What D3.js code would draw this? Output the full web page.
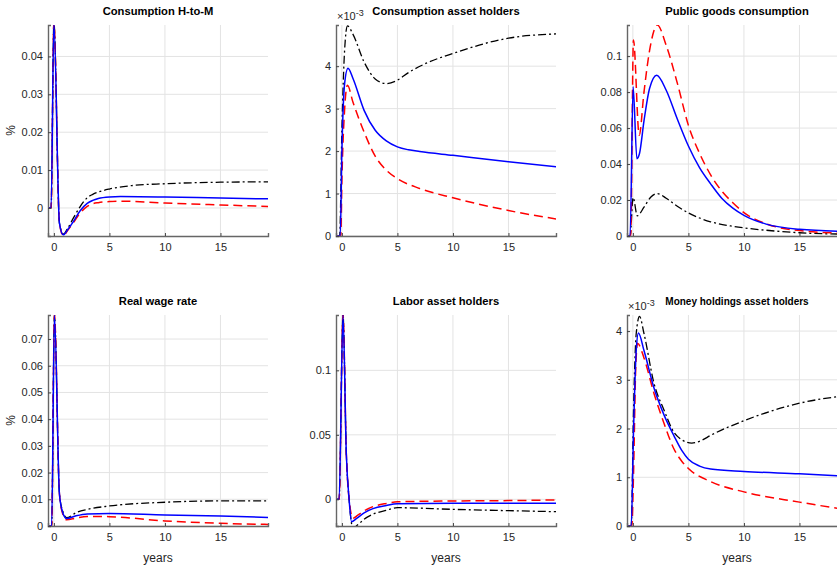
<!DOCTYPE html>
<html>
<head>
<meta charset="utf-8">
<script src="https://cdn.jsdelivr.net/npm/d3@7"></script>
<style>
  body { margin: 0; background: #fff; }
  svg { display: block; font-family: "Liberation Sans", Arial, Helvetica, sans-serif; }
</style>
</head>
<body>
<svg id="fig" width="837" height="571"></svg>
<script>
// time in years ([t, value])
const xTicks = [0, 5, 10, 15];

// Consumption H-to-M (%)
const consHtmBlue = [[-0.53,0],[-0.25,0],[0,0.049],[0.5,-0.004],[0.85,-0.0071],[1.25,-0.0057],[1.75,-0.0036],[2.35,-0.0008],[3,0.0012],[3.5,0.002],[4,0.0025],[5,0.0029],[6,0.003],[10,0.0029],[15,0.0026],[19.3,0.0024]];
const consHtmRed = [[-0.53,0],[-0.25,0],[0,0.049],[0.5,-0.004],[0.85,-0.0073],[1.25,-0.0059],[1.75,-0.0039],[2.35,-0.0014],[3,0.0004],[3.5,0.0011],[4,0.0014],[5,0.0017],[6,0.0018],[10,0.0013],[15,0.0008],[19.3,0.0004]];
const consHtmBlack = [[-0.53,0],[-0.25,0],[0,0.049],[0.5,-0.004],[0.85,-0.0069],[1.25,-0.0053],[1.75,-0.0027],[2.35,0.0003],[3,0.0027],[3.5,0.0036],[4,0.0042],[5,0.005],[7,0.0059],[10,0.0064],[15,0.0068],[19.3,0.0069]];
const consHtmTicks = [0, 0.01, 0.02, 0.03, 0.04];

// Consumption asset holders (x 10^-3)
const consAhBlue = [[-0.53,0],[-0.15,0],[0,2.0],[0.25,3.6],[0.55,3.95],[1,3.71],[2,2.96],[3,2.49],[4,2.24],[5,2.1],[6,2.03],[7,1.99],[10,1.9],[15,1.75],[19.3,1.63]];
const consAhRed = [[-0.53,0],[-0.1,0],[0,1.3],[0.25,3.0],[0.5,3.55],[1,3.15],[2,2.45],[3,1.88],[4,1.55],[5,1.35],[7,1.12],[10,0.9],[15,0.6],[19.3,0.4]];
const consAhBlack = [[-0.53,0],[-0.2,0],[0,2.5],[0.25,4.4],[0.5,4.95],[1,4.75],[2,4.1],[3,3.7],[4,3.59],[5,3.67],[6,3.85],[7.6,4.07],[10,4.3],[15,4.66],[19.3,4.76]];
const consAhTicks = [0, 1, 2, 3, 4];

// Public goods consumption
const pubBlue = [[-0.45,0],[-0.25,0],[0.02,0.083],[0.36,0.043],[0.6,0.046],[1,0.064],[1.5,0.082],[2.15,0.0894],[3,0.081],[4,0.065],[5,0.05],[6,0.038],[7,0.029],[8,0.021],[9,0.0155],[10,0.0115],[12,0.0066],[15,0.0037],[19.3,0.0025]];
const pubRed = [[-0.45,0],[-0.2,0],[0.05,0.109],[0.57,0.056],[1,0.08],[1.5,0.103],[2.2,0.1173],[3,0.106],[4,0.085],[5,0.0615],[6,0.046],[7,0.034],[8,0.025],[9,0.0185],[10,0.013],[12,0.0068],[15,0.003],[19.3,0.0015]];
const pubBlack = [[-0.45,0],[-0.25,0],[0.02,0.0214],[0.4,0.0112],[1,0.016],[1.6,0.0215],[2.2,0.0236],[3,0.021],[4,0.0165],[5,0.0128],[6,0.01],[7,0.0079],[8.8,0.0056],[10,0.0045],[12,0.0032],[15,0.0018],[19.3,0.001]];
const pubTicks = [0, 0.02, 0.04, 0.06, 0.08, 0.1];

// Real wage rate (%)
const wageBlue = [[-0.53,0],[-0.2,0],[0.05,0.079],[0.5,0.012],[0.8,0.005],[1.15,0.0028],[2,0.0038],[3,0.0045],[5,0.0047],[10,0.0041],[15,0.0037],[19.3,0.0032]];
const wageRed = [[-0.53,0],[-0.2,0],[0.05,0.079],[0.5,0.012],[0.8,0.0045],[1.15,0.0023],[2,0.003],[3,0.0036],[5,0.0035],[10,0.0019],[15,0.001],[19.3,0.0006]];
const wageBlack = [[-0.53,0],[-0.2,0],[0.05,0.079],[0.5,0.012],[0.8,0.0055],[1.15,0.0031],[2,0.005],[3,0.0062],[5,0.0075],[10,0.0089],[15,0.0094],[19.3,0.0094]];
const wageTicks = [0, 0.01, 0.02, 0.03, 0.04, 0.05, 0.06, 0.07];

// Labor asset holders
const laborBlue = [[-0.53,0],[-0.25,0],[0.1,0.143],[0.4,0.035],[0.65,0],[0.87,-0.0174],[1.3,-0.015],[2,-0.0105],[2.8,-0.0072],[4,-0.0048],[5,-0.0035],[10,-0.0031],[15,-0.0031],[19.3,-0.0031]];
const laborRed = [[-0.53,0],[-0.25,0],[0.1,0.143],[0.4,0.035],[0.65,0],[1,-0.0147],[1.4,-0.0125],[2,-0.009],[2.8,-0.0057],[4,-0.0032],[5,-0.0019],[10,-0.0013],[15,-0.001],[19.3,-0.0005]];
const laborBlack = [[-0.53,0],[-0.25,0],[0.1,0.143],[0.4,0.035],[0.65,0],[1,-0.0225],[1.4,-0.02],[2,-0.0155],[2.8,-0.0116],[4,-0.0085],[5,-0.0065],[10,-0.0078],[15,-0.0088],[19.3,-0.0096]];
const laborTicks = [0, 0.05, 0.1];

// Money holdings asset holders (x 10^-3)
const moneyBlue = [[-0.45,0],[-0.15,0],[0.06,1.97],[0.3,3.6],[0.5,3.96],[1,3.6],[1.9,2.83],[2.8,2.28],[3.7,1.85],[4.4,1.55],[5,1.37],[6,1.23],[7,1.17],[10,1.12],[15,1.07],[19.3,1.02]];
const moneyRed = [[-0.45,0],[-0.1,0],[0.06,1.1],[0.25,3.2],[0.42,3.75],[1,3.45],[1.9,2.72],[2.8,2.11],[3.7,1.58],[4.4,1.33],[5,1.18],[7,0.91],[10,0.7],[15,0.49],[19.3,0.33]];
const moneyBlack = [[-0.45,0],[-0.15,0],[0.06,2.4],[0.3,3.95],[0.6,4.3],[1,3.95],[1.9,2.93],[2.8,2.38],[3.7,1.92],[4.4,1.77],[5.3,1.7],[6.2,1.76],[7,1.86],[10,2.16],[15,2.52],[19.3,2.68]];
const moneyTicks = [0, 1, 2, 3, 4];

const panels = [
  {title: "Consumption H-to-M", x: 48, y: 25, yDom: [-0.0074, 0.0483], ticks: consHtmTicks, series: [consHtmBlue, consHtmRed, consHtmBlack], ylab: "%"},
  {title: "Consumption asset holders", x: 336, y: 25, yDom: [0, 4.97], ticks: consAhTicks, series: [consAhBlue, consAhRed, consAhBlack], exp: true},
  {title: "Public goods consumption", x: 627, y: 25, yDom: [0, 0.1173], ticks: pubTicks, series: [pubBlue, pubRed, pubBlack]},
  {title: "Real wage rate", x: 48, y: 315, yDom: [0, 0.079], ticks: wageTicks, series: [wageBlue, wageRed, wageBlack], ylab: "%", xlab: true},
  {title: "Labor asset holders", x: 336, y: 315, yDom: [-0.0207, 0.1429], ticks: laborTicks, series: [laborBlue, laborRed, laborBlack], xlab: true},
  {title: "Money holdings asset holders", x: 627, y: 315, yDom: [0, 4.33], ticks: moneyTicks, series: [moneyBlue, moneyRed, moneyBlack], exp: true, xlab: true, small: true}
];

const W = 220, H = 211;
const styles = [
  {color: "#0000ff", dash: null, w: 1.5},
  {color: "#ff0000", dash: "9,5", w: 1.5},
  {color: "#000000", dash: "8,3,2,3", w: 1.3}
];

const svg = d3.select("#fig");

panels.forEach((p, i) => {
  const g = svg.append("g").attr("transform", `translate(${p.x},${p.y})`);
  const x = d3.scaleLinear().domain([-0.53, 19.28]).range([0, W]);
  const y = d3.scaleLinear().domain(p.yDom).range([H, 0]);

  // grid
  g.append("g").selectAll("line.vg").data(xTicks).join("line")
    .attr("x1", d => x(d)).attr("x2", d => x(d)).attr("y1", 0).attr("y2", H)
    .attr("stroke", "#e3e3e3").attr("stroke-width", 1);
  g.append("g").selectAll("line.hg").data(p.ticks).join("line")
    .attr("x1", 0).attr("x2", W).attr("y1", d => y(d)).attr("y2", d => y(d))
    .attr("stroke", "#e3e3e3").attr("stroke-width", 1);

  // lines
  const clipId = "clip" + i;
  g.append("clipPath").attr("id", clipId).append("rect")
    .attr("x", 0).attr("y", 0).attr("width", W).attr("height", H);
  const line = d3.line().x(d => x(d[0])).y(d => y(d[1])).curve(d3.curveMonotoneX);
  const lg = g.append("g").attr("clip-path", `url(#${clipId})`);
  [2, 1, 0].forEach(k => {
    lg.append("path").datum(p.series[k])
      .attr("d", line)
      .attr("fill", "none")
      .attr("stroke", styles[k].color)
      .attr("stroke-width", styles[k].w)
      .attr("stroke-dasharray", styles[k].dash);
  });

  // axes
  const ax = g.append("g").attr("transform", `translate(0,${H})`)
    .call(d3.axisBottom(x).tickValues(xTicks).tickSize(-3).tickPadding(7).tickFormat(d3.format("d")));
  const ay = g.append("g")
    .call(d3.axisLeft(y).tickValues(p.ticks).tickSize(-3).tickPadding(5).tickFormat(d => String(+d.toFixed(3))));
  [ax, ay].forEach(a => {
    a.select(".domain").attr("stroke", "#666").attr("stroke-width", 1.4);
    a.selectAll(".tick line").attr("stroke", "#444");
    a.selectAll("text").attr("fill", "#262626").style("font-size", "11px");
  });

  // title
  g.append("text").attr("x", W / 2).attr("y", -10)
    .attr("text-anchor", "middle").style("font-weight", "bold")
    .style("font-size", p.small ? "10px" : "11.2px").attr("fill", "#000")
    .text(p.title);

  if (p.exp) {
    const t = g.append("text").attr("x", 1).attr("y", -5).attr("fill", "#262626").style("font-size", "11px");
    t.append("tspan").text("\u00d710");
    t.append("tspan").attr("dy", -4).style("font-size", "9px").text("-3");
  }
  if (p.ylab) {
    g.append("text").attr("transform", `translate(-33,${H / 2}) rotate(-90)`)
      .attr("text-anchor", "middle").attr("fill", "#262626").style("font-size", "12px").text(p.ylab);
  }
  if (p.xlab) {
    g.append("text").attr("x", W / 2).attr("y", H + 36)
      .attr("text-anchor", "middle").attr("fill", "#262626").style("font-size", "12px").text("years");
  }
});
</script>
</body>
</html>
